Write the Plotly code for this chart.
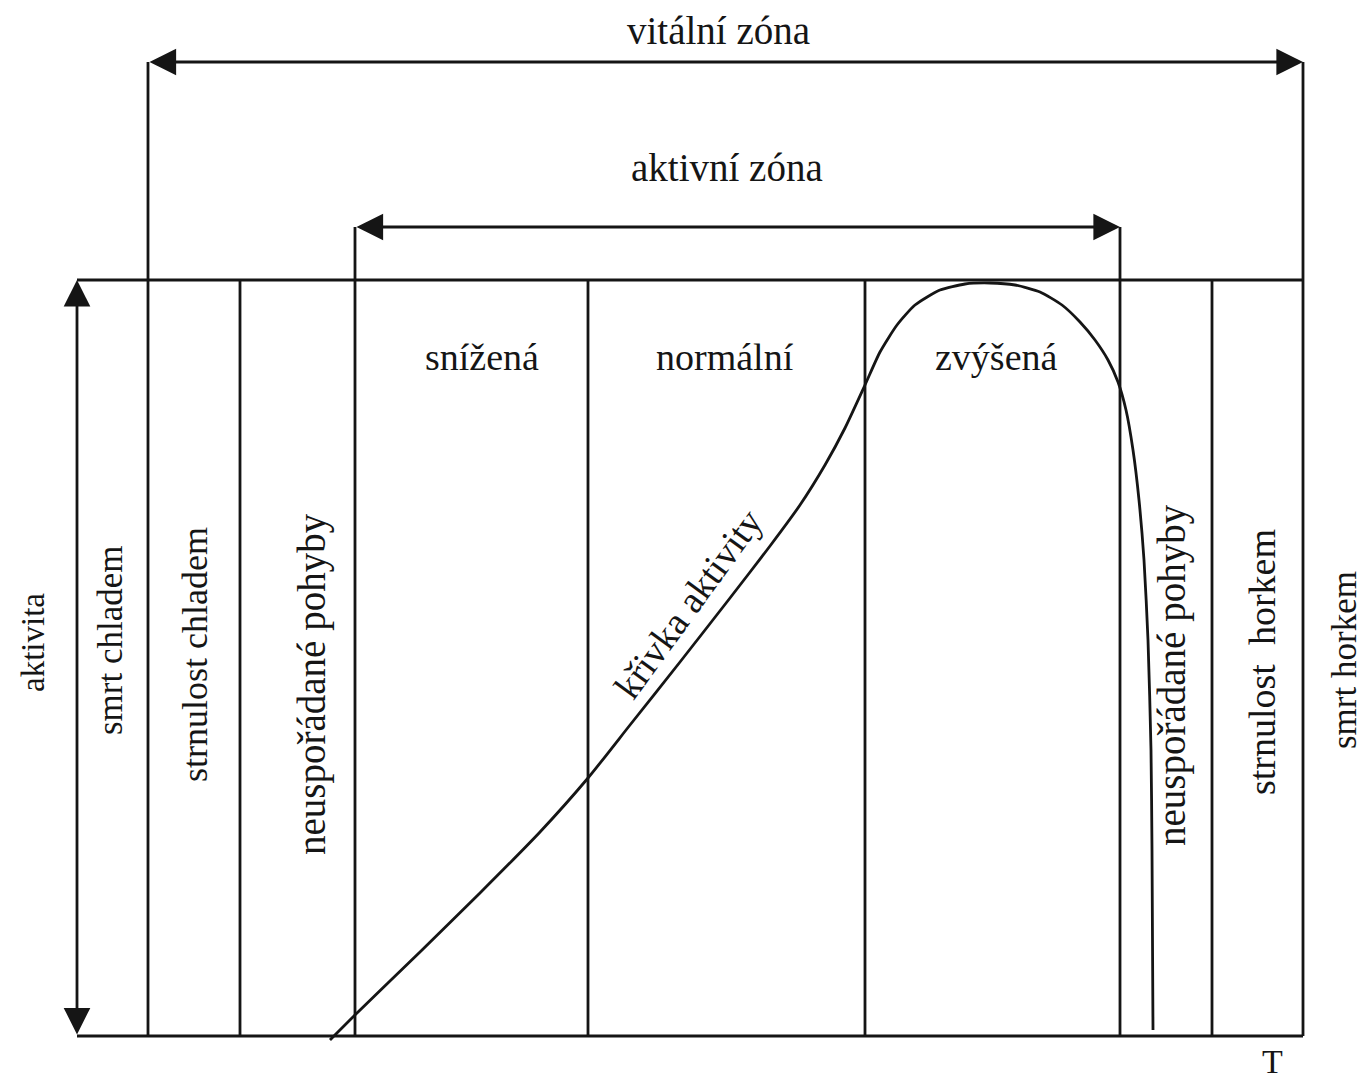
import plotly.graph_objects as go

# ---- diagram data (diagram units: T to the right, activity drawn downward) ----
axis_T = 77                       # position of the activity axis
box_top = 280                     # maximal activity line
box_bottom = 1036                 # zero activity line (T axis)
boundaries = [148, 240, 355, 588, 865, 1120, 1212, 1303]
vital_zone = [148, 1303]
vital_level = 62
active_zone = [355, 1120]
active_level = 227

curve_T = [330, 357, 420, 480, 540, 588, 630, 680, 730, 770, 800, 825, 845, 865,
           880, 897, 915, 940, 965, 990, 1015, 1040, 1062, 1080, 1095, 1108, 1118,
           1126, 1133, 1139, 1144, 1148, 1151, 1152, 1153]
curve_A = [1040, 1013, 952, 893, 832, 778, 725, 662, 598, 546, 505, 465, 428, 385,
           352, 325, 305, 290, 284, 283, 285, 292, 305, 322, 340, 360, 382,
           410, 450, 500, 560, 640, 750, 850, 1030]

zone_labels_top = ["snížená", "normální", "zvýšená"]
side_labels = ["aktivita", "smrt chladem", "strnulost chladem", "neuspořádané pohyby",
               "neuspořádané pohyby", "strnulost  horkem", "smrt horkem"]
span_labels = ["vitální zóna", "aktivní zóna"]
curve_label = "křivka aktivity"
axis_label = "T"

# ---- figure ----
INK = "#151515"
FONT = "Liberation Serif"
LW = 2.8
PAGE_OFFSET = 8   # default body margin of the html page

fig = go.Figure()

fig.add_trace(go.Scatter(x=curve_T, y=curve_A, mode="lines",
                         line=dict(color=INK, width=LW, shape="spline", smoothing=0.6),
                         hoverinfo="skip", showlegend=False))

shapes = []
shapes.append(dict(type="line", x0=axis_T, x1=vital_zone[1], y0=box_top, y1=box_top))
shapes.append(dict(type="line", x0=axis_T, x1=vital_zone[1], y0=box_bottom, y1=box_bottom))
for b in boundaries:
    y0 = box_top
    if b in vital_zone:
        y0 = vital_level
    elif b in active_zone:
        y0 = active_level
    shapes.append(dict(type="line", x0=b, x1=b, y0=y0, y1=box_bottom))
for s in shapes:
    s["line"] = dict(color=INK, width=LW)
    s["xref"] = "x"
    s["yref"] = "y"

annotations = []

def double_arrow(x0, y0, x1, y1):
    annotations.append(dict(x=x1, y=y1, ax=x0, ay=y0, xref="x", yref="y",
                            axref="x", ayref="y", text="", showarrow=True,
                            arrowhead=2, startarrowhead=2, arrowside="end+start",
                            arrowsize=1.9, startarrowsize=1.9, arrowwidth=LW,
                            arrowcolor=INK, standoff=0, startstandoff=0))

double_arrow(vital_zone[0], vital_level, vital_zone[1], vital_level)
double_arrow(active_zone[0], active_level, active_zone[1], active_level)
double_arrow(axis_T, box_bottom, axis_T, box_top)

def label(text, x, y, angle=0, size=38):
    annotations.append(dict(x=x, y=y, xref="x", yref="y", text=text, showarrow=False,
                            textangle=angle, font=dict(family=FONT, size=size, color=INK),
                            xanchor="center", yanchor="middle"))

label(span_labels[0], 718, 30, size=39)
label(span_labels[1], 727, 167, size=39)
label(zone_labels_top[0], 482, 357)
label(zone_labels_top[1], 725, 357)
label(zone_labels_top[2], 996, 357)

side_x = [33, 110, 195, 312, 1172, 1262, 1344]
side_y = [643, 640, 655, 684, 675, 662, 660]
side_size = [33, 35, 36, 39, 39, 38, 35]
for t, x, y, sz in zip(side_labels, side_x, side_y, side_size):
    label(t, x, y, angle=-90, size=sz)

label(curve_label, 688, 604, angle=-54, size=38)
label(axis_label, 1272, 1061, size=34)

fig.update_layout(
    width=1369 - PAGE_OFFSET, height=1079 - PAGE_OFFSET,
    margin=dict(l=0, r=0, t=0, b=0),
    paper_bgcolor="white", plot_bgcolor="white",
    xaxis=dict(range=[PAGE_OFFSET, 1369], visible=False, fixedrange=True),
    yaxis=dict(range=[1079, PAGE_OFFSET], visible=False, fixedrange=True),
    shapes=shapes, annotations=annotations, showlegend=False,
)

fig.write_html("out.html")
